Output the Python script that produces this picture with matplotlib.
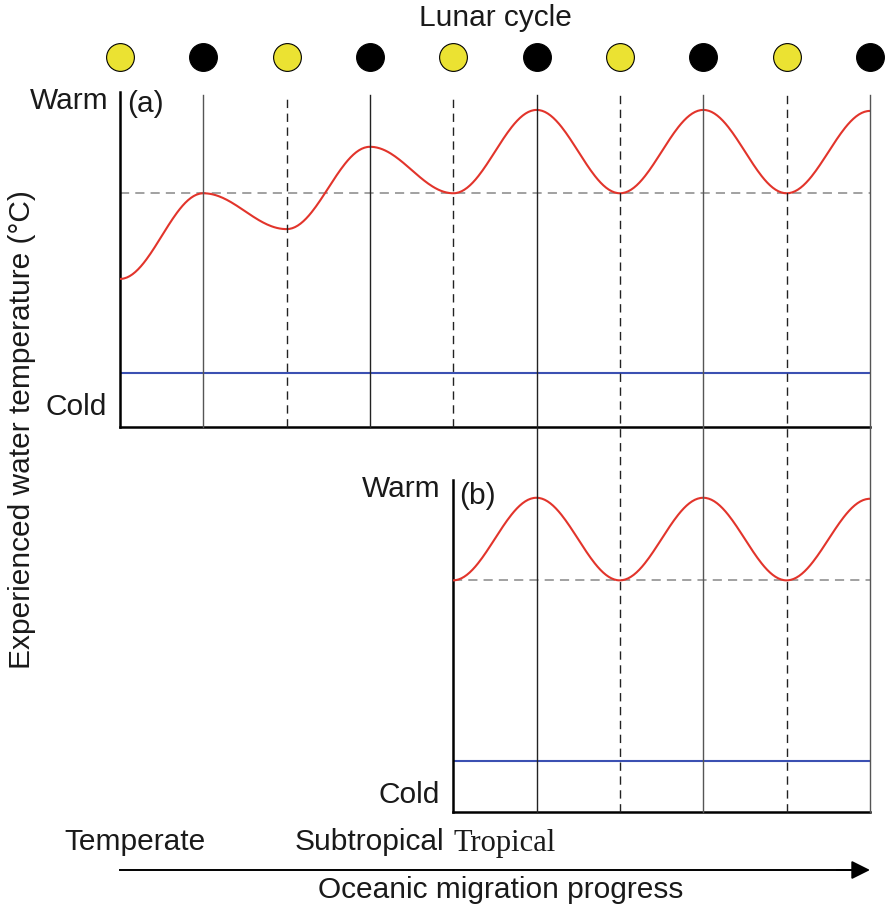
import numpy as np
import matplotlib
matplotlib.use("Agg")
import matplotlib.pyplot as plt
import matplotlib.transforms as mtransforms

plt.rcParams['font.family'] = ['Liberation Sans', 'DejaVu Sans']

# lunar phases along the migration (full moon / new moon)
moon_x = [0, 1, 2, 3, 4, 5, 6, 7, 8, 9]
moon_phase = ['full', 'new', 'full', 'new', 'full', 'new', 'full', 'new', 'full', 'new']

# experienced temperature at each lunar turning point (0 = cold, 100 = warm)
temp_a_x = [0, 1, 2, 3, 4, 5, 6, 7, 8, 9]
temp_a = [44.6, 70.4, 59.6, 84.4, 70.4, 95.5, 70.4, 95.5, 70.4, 95.2]
temp_b_x = [4, 5, 6, 7, 8, 9]
temp_b = [70.4, 95.5, 70.4, 95.5, 70.4, 95.2]
surface_ref = 70.4   # dashed reference level
cold_ref_a = 16.2    # blue baseline
cold_ref_b = 15.6

solid_x = [1, 3, 5, 7, 9]
dashed_x = [2, 4, 6, 8]

W, H = 885, 910
RED = '#e2342b'
BLUE = '#3b50b2'
YELLOW = '#ebe232'


def rect(left, top, right, bottom):
    return [left / W, 1 - bottom / H, (right - left) / W, (bottom - top) / H]


def fy(py):
    return 1 - py / H


def smooth(xk, yk, n=60):
    # half-cosine easing between successive turning points
    xs, ys = [], []
    for i in range(len(xk) - 1):
        t = np.linspace(0, 1, n, endpoint=False)
        e = (1 - np.cos(np.pi * t)) / 2
        xs.append(xk[i] + (xk[i + 1] - xk[i]) * t)
        ys.append(yk[i] + (yk[i + 1] - yk[i]) * e)
    xs.append([xk[-1]])
    ys.append([yk[-1]])
    return np.concatenate(xs), np.concatenate(ys)


fig = plt.figure(figsize=(W / 100, H / 100), dpi=100)
ax_a = fig.add_axes(rect(120, 92, 870, 427))
ax_b = fig.add_axes(rect(453, 480, 870, 812))

ax_a.set_xlim(0, 9)
ax_b.set_xlim(4, 9)
for ax in (ax_a, ax_b):
    ax.set_ylim(0, 100.9)
    ax.set_xticks([])
    ax.set_yticks([])
    ax.spines['top'].set_visible(False)
    ax.spines['right'].set_visible(False)
    ax.spines['left'].set_linewidth(1.8)
    ax.spines['bottom'].set_linewidth(1.8)
    ax.patch.set_visible(False)

# vertical lunar markers: panel (a) only for the first ones, then through both panels
trans = mtransforms.blended_transform_factory(ax_a.transData, fig.transFigure)
top_y = fy(95)
for x in solid_x + dashed_x:
    ls = '-' if x in solid_x else (0, (6, 4))
    col = '#555555' if x in (1, 7, 9) else '#222222'
    lo = fy(427) if x < 5 else fy(812)
    fig.add_artist(plt.Line2D([x, x], [lo, top_y], transform=trans, color=col,
                              lw=1.0, linestyle=ls, zorder=1))

# panel (a)
ax_a.axhline(surface_ref, color='#888888', lw=1.1, linestyle=(0, (6, 4)), zorder=2)
ax_a.axhline(cold_ref_a, color=BLUE, lw=1.5, zorder=2)
xa, ya = smooth(temp_a_x, temp_a)
ax_a.plot(xa, ya, color=RED, lw=1.5, zorder=3)

# panel (b)
ax_b.axhline(surface_ref, color='#888888', lw=1.1, linestyle=(0, (6, 4)), zorder=2)
ax_b.axhline(cold_ref_b, color=BLUE, lw=1.5, zorder=2)
xb, yb = smooth(temp_b_x, temp_b)
ax_b.plot(xb, yb, color=RED, lw=1.5, zorder=3)

# lunar cycle row
moon_ax = fig.add_axes(rect(120, 37, 870, 77))
moon_ax.set_xlim(0, 9)
moon_ax.set_ylim(0, 1)
moon_ax.axis('off')
for x, p in zip(moon_x, moon_phase):
    moon_ax.scatter(x, 0.5, s=400, color=YELLOW if p == 'full' else 'black',
                    edgecolor='black', linewidth=0.8, clip_on=False, zorder=3)

txt = dict(fontsize=21.5, color='#1a1a1a')
fig.text(495 / W, fy(18), 'Lunar cycle', ha='center', va='center', **txt)
fig.text(108 / W, fy(101), 'Warm', ha='right', va='center', **txt)
fig.text(127 / W, fy(104), '(a)', ha='left', va='center', **txt)
fig.text(107 / W, fy(407), 'Cold', ha='right', va='center', **txt)
fig.text(441 / W, fy(489), 'Warm', ha='right', va='center', **txt)
fig.text(459 / W, fy(496), '(b)', ha='left', va='center', **txt)
fig.text(440 / W, fy(795), 'Cold', ha='right', va='center', **txt)
fig.text(22 / W, fy(430), 'Experienced water temperature (°C)', rotation=90,
         ha='center', va='center', **txt)

fig.text(64 / W, fy(842), 'Temperate', ha='left', va='center', **txt)
fig.text(295 / W, fy(842), 'Subtropical', ha='left', va='center', **txt)
fig.text(453 / W, fy(843), 'Tropical', ha='left', va='center',
         family=['Liberation Serif', 'DejaVu Serif'], fontsize=22, color='#1a1a1a')
fig.text(501 / W, fy(890), 'Oceanic migration progress', ha='center', va='center', **txt)

# migration arrow along the same x scale
fig.add_artist(plt.Line2D([0, 8.85], [fy(870), fy(870)], transform=trans,
                          color='black', lw=1.4))
ax_a.annotate('', xy=(9.0, fy(870)), xytext=(8.6, fy(870)), xycoords=trans,
              textcoords=trans,
              arrowprops=dict(arrowstyle='-|>', color='black', lw=1.4,
                              mutation_scale=28, shrinkA=0, shrinkB=0))

fig.savefig('out.png', dpi=100)
